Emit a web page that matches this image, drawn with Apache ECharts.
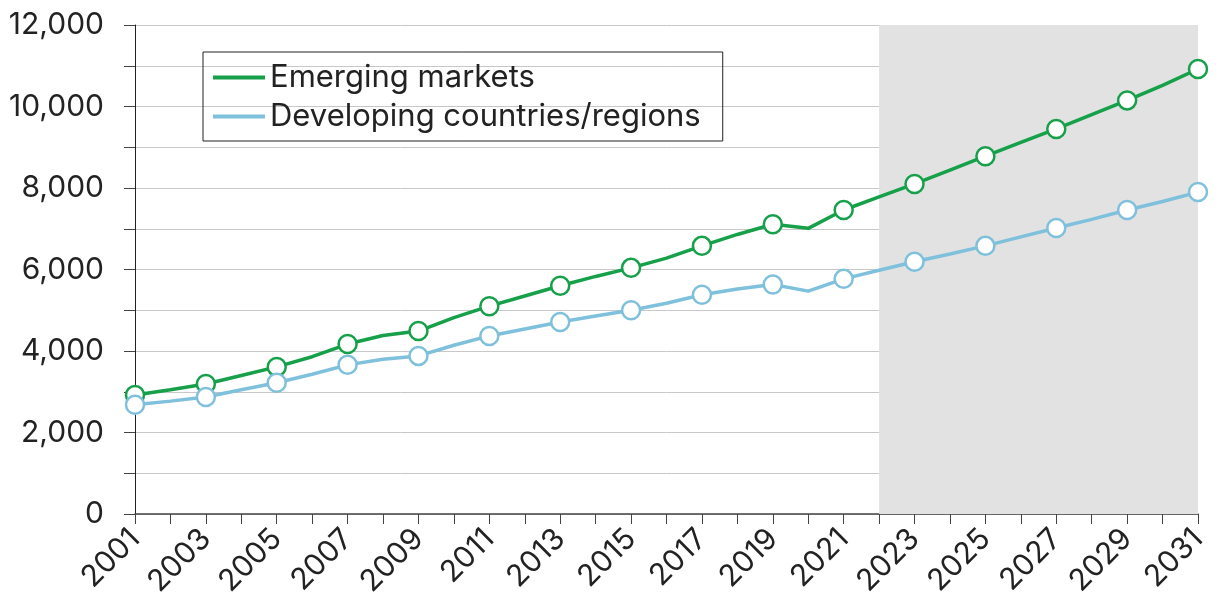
<html>
<head>
<meta charset="utf-8">
<title>Emerging markets vs developing countries</title>
<script src="https://cdn.jsdelivr.net/npm/echarts@6/dist/echarts.min.js"></script>
<style>
  html, body { margin: 0; padding: 0; background: #fff; }
  #main { width: 1217px; height: 599px; }
</style>
</head>
<body>
<div id="main"></div>
<script type="text/javascript">
// years on the x axis
var years = [];
for (var y = 2001; y <= 2031; y++) years.push(String(y));

// values
var emerging = [2920, 3050, 3190, 3400, 3610, 3860, 4170, 4380, 4490, 4820, 5100, 5350, 5600, 5830, 6040,
                6280, 6580, 6860, 7110, 7010, 7460, 7780, 8100, 8440, 8780, 9120, 9450, 9800, 10150, 10520, 10920];
var developing = [2680, 2770, 2870, 3050, 3220, 3430, 3660, 3800, 3880, 4140, 4370, 4540, 4710, 4860, 5000,
                  5170, 5380, 5520, 5630, 5470, 5770, 5980, 6190, 6380, 6580, 6800, 7020, 7230, 7460, 7670, 7900];

var forecastFrom = '2022';
var forecastTo = '2031';

var green = '#16a04a';
var blue = '#7fc0dc';
var font = 'Inter, "Noto Sans", sans-serif';
var myChart = echarts.init(document.getElementById('main'));

// markers only on every other year
function oddYearSymbol(value, params) {
    return params.dataIndex % 2 === 0 ? 'circle' : 'none';
}

var option = {
    animation: false,
    textStyle: { fontFamily: font },
    grid: { left: 135, right: 19, top: 25, bottom: 85, containLabel: false, outerBoundsMode: 'none' },
    legend: {
        orient: 'vertical',
        left: 203,
        top: 52,
        padding: [10, 22, 9, 10],
        itemGap: 8,
        itemWidth: 52,
        itemHeight: 4,
        icon: 'rect',
        borderColor: '#222',
        borderWidth: 1,
        textStyle: { fontSize: 31, color: '#222', fontFamily: font },
        data: [
            { name: 'Emerging markets', itemStyle: { color: green, borderWidth: 0 } },
            { name: 'Developing countries/regions', itemStyle: { color: blue, borderWidth: 0 } }
        ]
    },
    xAxis: {
        type: 'category',
        boundaryGap: false,
        data: years,
        axisLine: { lineStyle: { color: '#444', width: 1.5 } },
        axisTick: { interval: 0, length: 10, lineStyle: { color: '#444' } },
        axisLabel: {
            interval: 1,
            rotate: 45,
            fontSize: 30,
            color: '#222',
            margin: 20,
            fontFamily: font
        },
        splitLine: { show: false }
    },
    yAxis: {
        type: 'value',
        min: 0,
        max: 12000,
        interval: 1000,
        axisLine: { show: true, lineStyle: { color: '#222', width: 1 } },
        axisTick: { show: true, length: 11, lineStyle: { color: '#444' } },
        axisLabel: {
            fontSize: 30,
            color: '#222',
            margin: 31,
            fontFamily: font,
            formatter: function (v) {
                if (v % 2000 !== 0) return '';
                return v.toLocaleString('en-US');
            }
        },
        splitLine: { lineStyle: { color: '#c8c8c8', width: 1 } }
    },
    series: [
        {
            name: 'Emerging markets',
            type: 'line',
            data: emerging,
            z: 3,
            symbol: oddYearSymbol,
            symbolSize: 18,
            lineStyle: { color: green, width: 3.5 },
            itemStyle: { color: '#fff', borderColor: green, borderWidth: 2.5 },
            markArea: {
                silent: true,
                itemStyle: { color: '#e2e2e2' },
                data: [[{ xAxis: forecastFrom }, { xAxis: forecastTo }]]
            }
        },
        {
            name: 'Developing countries/regions',
            type: 'line',
            data: developing,
            z: 3,
            symbol: oddYearSymbol,
            symbolSize: 18,
            lineStyle: { color: blue, width: 3.5 },
            itemStyle: { color: '#fff', borderColor: blue, borderWidth: 2.5 }
        }
    ]
};
myChart.setOption(option);
</script>
</body>
</html>
